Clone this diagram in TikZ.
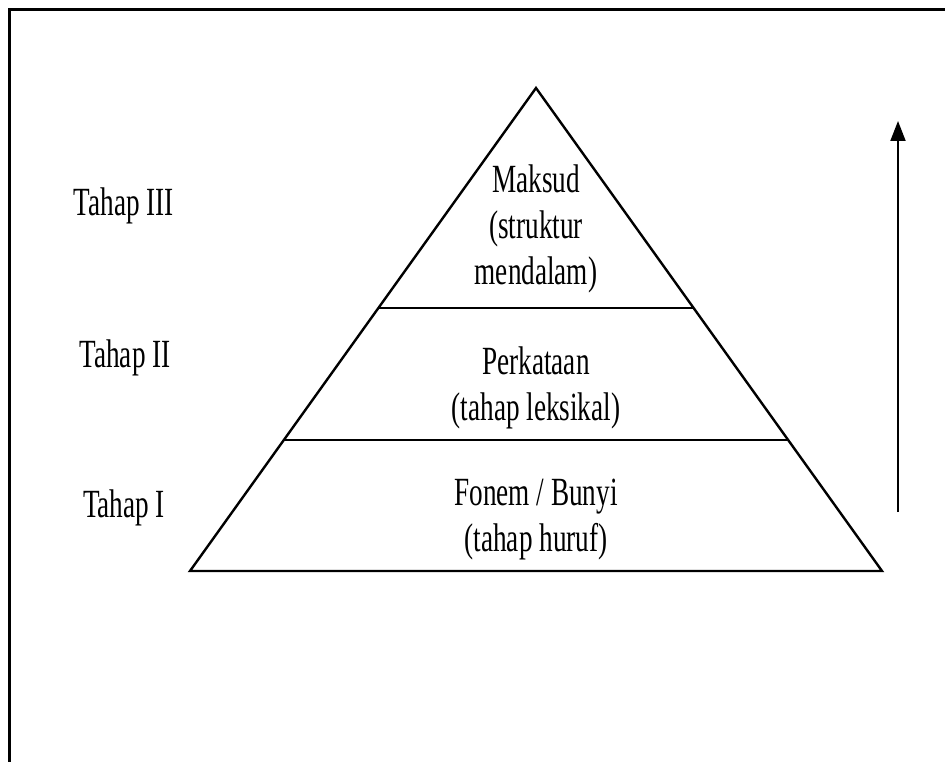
\documentclass[tikz,border=0pt]{standalone}
\usepackage{fontspec}
\newfontfamily\narrowserif[FakeStretch=0.68]{Liberation Serif}
\usepackage{tikz}
\usetikzlibrary{arrows.meta,calc,positioning}
\tikzset{
  level_txt/.style = {align=center, inner sep=0pt, font=\narrowserif\fontsize{40}{46}\selectfont},
  tahap_txt/.style = {level_txt, anchor=base},
  pyr_line/.style = {line width=2.4pt}
}

\begin{document}
\begin{tikzpicture}[x=1pt,y=-1pt]
    \useasboundingbox (0,0) rectangle (945,762);
    % frame (top and left only)
    \coordinate (fr_bl) at (9.5,762);
    \coordinate (fr_tl) at (9.5,9.5);
    \coordinate (fr_tr) at (945,9.5);
    \draw[line width=3pt] (fr_bl) -- (fr_tl) -- (fr_tr);
    % pyramid
    \coordinate (apex) at (536,88);
    \coordinate (bl) at (190,571);
    \coordinate (br) at (882,571);
    \draw[pyr_line, line join=miter] (apex) -- (bl) -- (br) -- cycle;
    \coordinate (d1l) at ($(apex)!0.455!(bl)$);
    \coordinate (d1r) at ($(apex)!0.455!(br)$);
    \coordinate (d2l) at ($(apex)!0.729!(bl)$);
    \coordinate (d2r) at ($(apex)!0.729!(br)$);
    \draw[pyr_line] (d1l) -- (d1r);
    \draw[pyr_line] (d2l) -- (d2r);
    % level texts
    \node[level_txt] (maksud) at (536,229) {Maksud\\(struktur\\mendalam)};
    \node[level_txt] (perkataan) at (536,388) {Perkataan\\(tahap leksikal)};
    \node[level_txt] (fonem) at (536,520) {Fonem / Bunyi\\(tahap huruf)};
    % stage labels
    \node[tahap_txt] (t3) at (124,215) {Tahap III};
    \node[tahap_txt] (t2) at (125,367) {Tahap II};
    \node[tahap_txt] (t1) at (124,517) {Tahap I};
    % arrow
    \coordinate (arr_s) at (898,512);
    \coordinate (arr_e) at (898,121);
    \draw[line width=2pt, -{Triangle[length=20pt,width=15pt]}] (arr_s) -- (arr_e);
\end{tikzpicture}
\end{document}
